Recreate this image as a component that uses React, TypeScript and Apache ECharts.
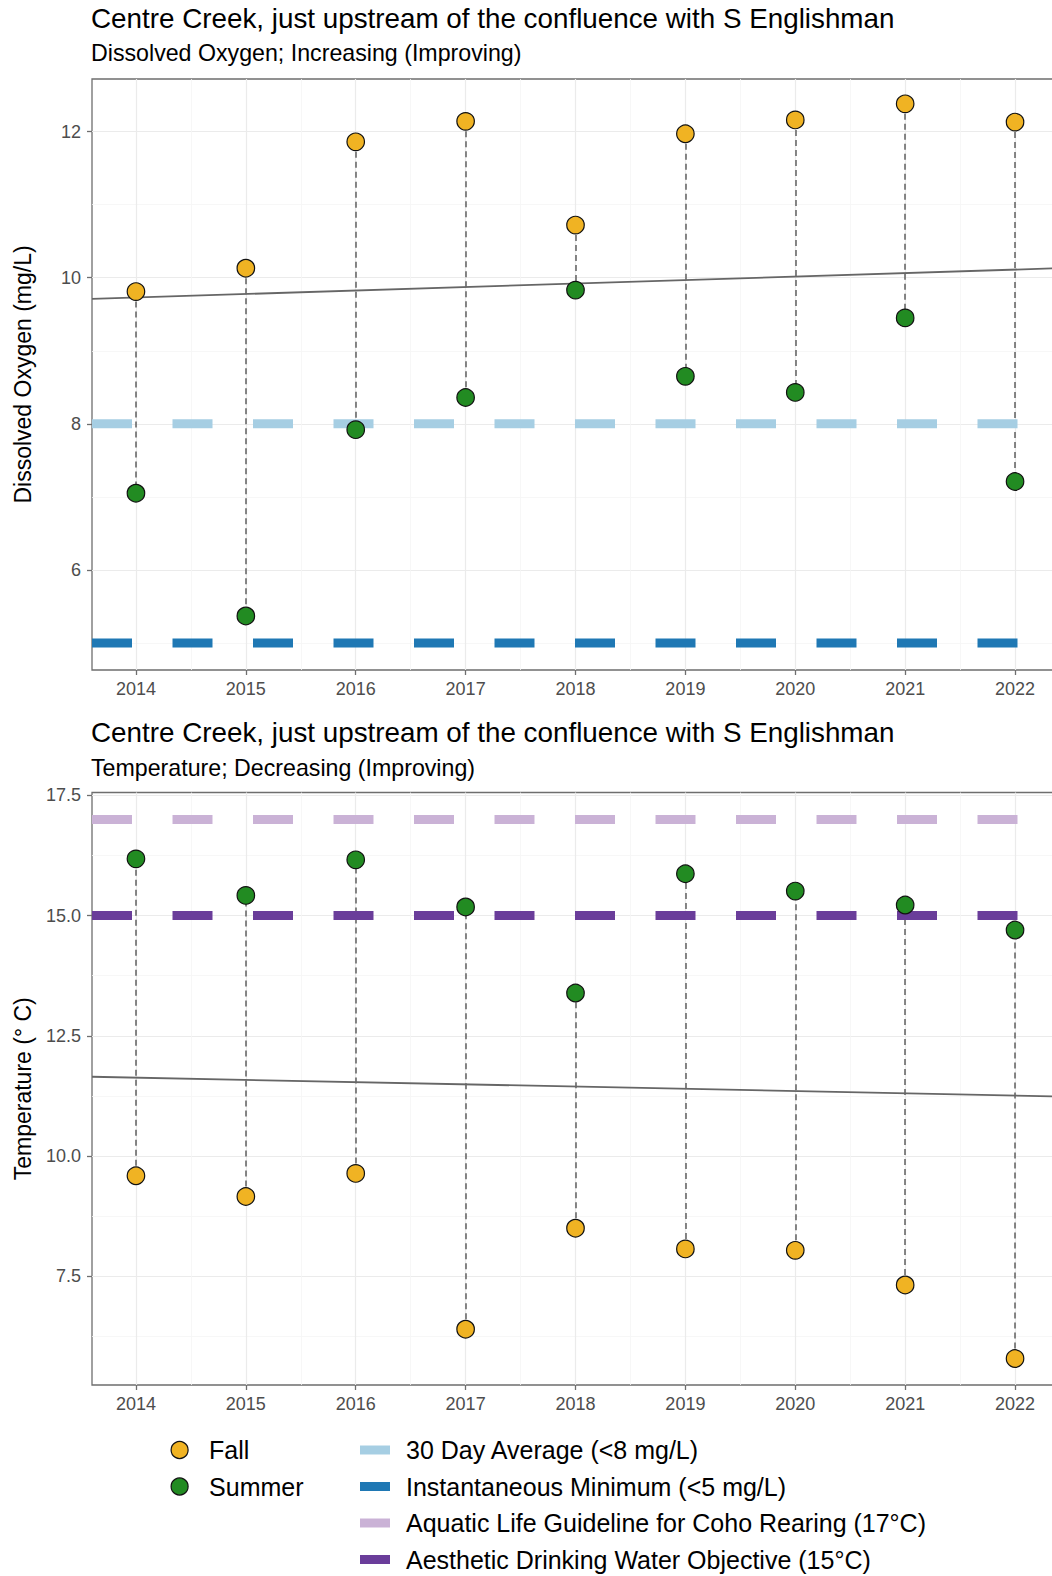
import React, { useEffect, useRef } from "react";
import * as echarts from "echarts";

const years = [2014, 2015, 2016, 2017, 2018, 2019, 2020, 2021, 2022];
const doFall = [9.81, 10.13, 11.86, 12.14, 10.72, 11.97, 12.16, 12.38, 12.13];
const doSummer = [7.05, 5.37, 7.92, 8.36, 9.83, 8.65, 8.43, 9.45, 7.21];
const tempFall = [9.59, 9.16, 9.64, 6.4, 8.5, 8.07, 8.04, 7.32, 5.79];
const tempSummer = [16.18, 15.42, 16.16, 15.18, 13.39, 15.87, 15.51, 15.22, 14.7];
const doTrend = [
  [2013.6, 9.71],
  [2022.4, 10.13],
];
const tempTrend = [
  [2013.6, 11.65],
  [2022.4, 11.24],
];
const xRange = [2013.6, 2022.4];
const doRange = [4.63, 12.72];
const tempRange = [5.24, 17.56];
const doTicks = [6, 8, 10, 12];
const doMinorTicks = [5, 7, 9, 11];
const tempTicks = [7.5, 10, 12.5, 15, 17.5];
const tempMinorTicks = [6.25, 8.75, 11.25, 13.75, 16.25];
const yearMinorTicks = [2014.5, 2015.5, 2016.5, 2017.5, 2018.5, 2019.5, 2020.5, 2021.5];
const doGuides = [
  { name: "30 Day Average (<8 mg/L)", value: 8, color: "#A6CEE3" },
  { name: "Instantaneous Minimum (<5 mg/L)", value: 5, color: "#1F78B4" },
];
const tempGuides = [
  { name: "Aquatic Life Guideline for Coho Rearing (17°C)", value: 17, color: "#CAB2D6" },
  { name: "Aesthetic Drinking Water Objective (15°C)", value: 15, color: "#6A3D9A" },
];
const titleText = "Centre Creek, just upstream of the confluence with S Englishman";
const doSubtitle = "Dissolved Oxygen; Increasing (Improving)";
const tempSubtitle = "Temperature; Decreasing (Improving)";
const doAxisName = "Dissolved Oxygen (mg/L)";
const tempAxisName = "Temperature (° C)";

const FONT = "'Liberation Sans', Arial, sans-serif";
const FALL_COLOR = "#F0B323";
const SUMMER_COLOR = "#228B22";
const BORDER = "#6e6e6e";
const GRID_MAJOR = "#ebebeb";
const GRID_MINOR = "#f5f5f5";
const TICK_TEXT = "#4d4d4d";

function buildOption() {
  const grids = [
    { left: 92, top: 79, width: 967, height: 591 },
    { left: 92, top: 792.5, width: 967, height: 592.5 },
  ].map((g) => ({
    ...g,
    show: true,
    borderColor: BORDER,
    borderWidth: 1.3,
    backgroundColor: "transparent",
    containLabel: false,
    outerBoundsMode: "none",
  }));

  const xMain = (gridIndex: number) => ({
    type: "value",
    gridIndex,
    min: xRange[0],
    max: xRange[1],
    axisLine: { show: false },
    axisTick: { show: true, length: 5, customValues: years, lineStyle: { color: BORDER, width: 1.3 } },
    axisLabel: {
      show: true,
      customValues: years,
      margin: 10,
      color: TICK_TEXT,
      fontSize: 18,
      fontFamily: FONT,
      formatter: (v: number) => String(Math.round(v)),
    },
    splitLine: { show: true, customValues: years, lineStyle: { color: GRID_MAJOR, width: 1.2 } },
  });
  const xMinor = (gridIndex: number) => ({
    type: "value",
    gridIndex,
    min: xRange[0],
    max: xRange[1],
    axisLine: { show: false },
    axisTick: { show: false, customValues: yearMinorTicks },
    axisLabel: { show: false, customValues: yearMinorTicks },
    splitLine: { show: true, customValues: yearMinorTicks, lineStyle: { color: GRID_MINOR, width: 0.8 } },
  });
  const yMain = (gridIndex: number, range: number[], ticks: number[], name: string, decimals: number) => ({
    type: "value",
    gridIndex,
    min: range[0],
    max: range[1],
    name,
    nameLocation: "middle",
    nameGap: 58,
    nameRotate: 90,
    nameTextStyle: { fontSize: 23, color: "#000", fontFamily: FONT },
    axisLine: { show: false },
    axisTick: { show: true, length: 5, customValues: ticks, lineStyle: { color: BORDER, width: 1.3 } },
    axisLabel: {
      show: true,
      customValues: ticks,
      margin: 11,
      color: TICK_TEXT,
      fontSize: 18,
      fontFamily: FONT,
      formatter: (v: number) => v.toFixed(decimals),
    },
    splitLine: { show: true, customValues: ticks, lineStyle: { color: GRID_MAJOR, width: 1.2 } },
  });
  const yMinor = (gridIndex: number, range: number[], ticks: number[]) => ({
    type: "value",
    gridIndex,
    min: range[0],
    max: range[1],
    axisLine: { show: false },
    axisTick: { show: false, customValues: ticks },
    axisLabel: { show: false, customValues: ticks },
    splitLine: { show: true, customValues: ticks, lineStyle: { color: GRID_MINOR, width: 0.8 } },
  });

  const xAxis = [xMain(0), xMinor(0), xMain(1), xMinor(1)];
  const yAxis = [
    yMain(0, doRange, doTicks, doAxisName, 0),
    yMinor(0, doRange, doMinorTicks),
    yMain(1, tempRange, tempTicks, tempAxisName, 1),
    yMinor(1, tempRange, tempMinorTicks),
  ];

  const series: any[] = [];
  const panels = [
    { x: 0, y: 0, fall: doFall, summer: doSummer, trend: doTrend, guides: doGuides },
    { x: 2, y: 2, fall: tempFall, summer: tempSummer, trend: tempTrend, guides: tempGuides },
  ];
  panels.forEach((p) => {
    series.push({
      type: "lines",
      coordinateSystem: "cartesian2d",
      xAxisIndex: p.x,
      yAxisIndex: p.y,
      z: 1,
      silent: true,
      lineStyle: { color: "#5f5f5f", width: 1.5, type: [6, 4], opacity: 1, curveness: 0 },
      data: years.map((yr, i) => ({ coords: [[yr, p.fall[i]], [yr, p.summer[i]]] })),
    });
    p.guides.forEach((g) => {
      series.push({
        type: "line",
        name: g.name,
        xAxisIndex: p.x,
        yAxisIndex: p.y,
        z: 2,
        symbol: "none",
        silent: true,
        itemStyle: { color: g.color },
        lineStyle: { color: g.color, width: 9, type: [40, 40.5], cap: "butt" },
        data: [
          [xRange[0], g.value],
          [xRange[1], g.value],
        ],
      });
    });
    series.push({
      type: "line",
      xAxisIndex: p.x,
      yAxisIndex: p.y,
      z: 3,
      symbol: "none",
      silent: true,
      lineStyle: { color: "#666666", width: 1.8 },
      data: p.trend,
    });
    series.push({
      type: "scatter",
      name: "Fall",
      xAxisIndex: p.x,
      yAxisIndex: p.y,
      z: 5,
      symbol: "circle",
      symbolSize: 17.5,
      itemStyle: { color: FALL_COLOR, borderColor: "#111", borderWidth: 1.2, opacity: 1 },
      data: years.map((yr, i) => [yr, p.fall[i]]),
    });
    series.push({
      type: "scatter",
      name: "Summer",
      xAxisIndex: p.x,
      yAxisIndex: p.y,
      z: 5,
      symbol: "circle",
      symbolSize: 17.5,
      itemStyle: { color: SUMMER_COLOR, borderColor: "#111", borderWidth: 1.2, opacity: 1 },
      data: years.map((yr, i) => [yr, p.summer[i]]),
    });
  });

  const legendText = { fontSize: 25, color: "#000", fontFamily: FONT, lineHeight: 26 };
  const legend = [
    {
      orient: "vertical",
      left: 170.5,
      top: 1437,
      padding: 0,
      itemGap: 10.5,
      itemWidth: 17,
      itemHeight: 17,
      selectedMode: false,
      textStyle: { ...legendText, padding: [0, 0, 0, 16] },
      data: [
        { name: "Fall", icon: "circle", itemStyle: { color: FALL_COLOR, borderColor: "#111", borderWidth: 1.2 } },
        { name: "Summer", icon: "circle", itemStyle: { color: SUMMER_COLOR, borderColor: "#111", borderWidth: 1.2 } },
      ],
    },
    {
      orient: "vertical",
      left: 360,
      top: 1437,
      padding: 0,
      itemGap: 10.5,
      itemWidth: 30,
      itemHeight: 9,
      selectedMode: false,
      textStyle: { ...legendText, padding: [0, 0, 0, 11] },
      data: [...doGuides, ...tempGuides].map((g) => ({
        name: g.name,
        icon: "rect",
        itemStyle: { color: g.color, borderWidth: 0 },
      })),
    },
  ];

  const titleStyle = { fontSize: 27.8, fontWeight: "normal", color: "#000", fontFamily: FONT };
  const subStyle = { fontSize: 23.2, fontWeight: "normal", color: "#000", fontFamily: FONT };
  const title = [
    { text: titleText, left: 91, top: 4, padding: 0, textStyle: titleStyle },
    { text: doSubtitle, left: 91, top: 41, padding: 0, textStyle: subStyle },
    { text: titleText, left: 91, top: 718, padding: 0, textStyle: titleStyle },
    { text: tempSubtitle, left: 91, top: 756, padding: 0, textStyle: subStyle },
  ];

  return {
    animation: false,
    backgroundColor: "#ffffff",
    textStyle: { fontFamily: FONT },
    title,
    legend,
    grid: grids,
    xAxis,
    yAxis,
    series,
  };
}

export default function App() {
  const ref = useRef<HTMLDivElement>(null);
  useEffect(() => {
    if (!ref.current) return;
    const chart = echarts.init(ref.current, null, { renderer: "svg" });
    chart.setOption(buildOption() as any);
    return () => {
      chart.dispose();
    };
  }, []);
  return (
    <div
      ref={ref}
      style={{ position: "absolute", left: 0, top: 0, width: 1052, height: 1576, background: "#fff" }}
    />
  );
}
